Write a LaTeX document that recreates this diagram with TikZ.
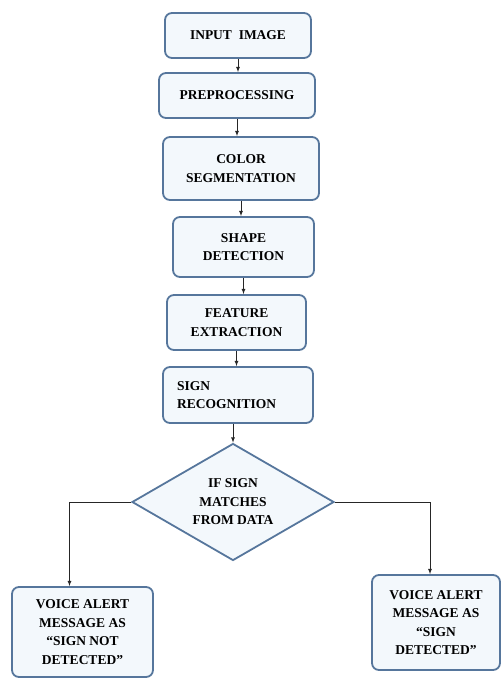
\documentclass[tikz,border=0pt]{standalone}
\usepackage{fontspec}
\setmainfont{Liberation Serif}
\usepackage{xcolor}
\usetikzlibrary{arrows,shapes,positioning}

\definecolor{boxline}{RGB}{86,118,156}
\definecolor{boxfill}{RGB}{243,248,252}

\tikzset{
  boxfont/.style={font=\rmfamily\bfseries\fontsize{13.5}{18.5}\selectfont},
  stepbox/.style={rectangle,draw=boxline,fill=boxfill,line width=1.8pt,rounded corners=7pt,
    align=center,inner sep=2pt,boxfont},
  decbox/.style={diamond,draw=boxline,fill=boxfill,line width=1.8pt,aspect=1.73,
    align=center,inner sep=0pt,boxfont},
  arr/.style={-latex,line width=0.8pt,black!85}
}

\begin{document}
\begin{tikzpicture}[x=1pt,y=-1pt]
\useasboundingbox (0,0) rectangle (502,679);
% Flowchart
\node[stepbox,minimum width=146pt,minimum height=45pt] (input) at (238,35.5) {INPUT\ \ IMAGE};
\node[stepbox,minimum width=156pt,minimum height=45pt] (prep) at (237,95.5) {PREPROCESSING};
\node[stepbox,minimum width=156pt,minimum height=63pt] (color) at (241,168.5) {COLOR\\SEGMENTATION};
\node[stepbox,minimum width=141pt,minimum height=60pt] (shape) at (243.5,247) {SHAPE\\DETECTION};
\node[stepbox,minimum width=139pt,minimum height=55pt] (feat) at (236.5,322.5) {FEATURE\\EXTRACTION};
\node[stepbox,minimum width=150pt,minimum height=56pt,align=left,text width=122pt] (recog) at (238,395) {SIGN\\RECOGNITION};
\node[decbox,minimum width=202pt,minimum height=117pt] (match) at (233,502) {IF SIGN\\MATCHES\\FROM DATA};
\node[stepbox,minimum width=141pt,minimum height=90pt] (nomsg) at (82.5,632) {VOICE ALERT\\MESSAGE AS\\``SIGN NOT\\DETECTED''};
\node[stepbox,minimum width=128pt,minimum height=95pt] (yesmsg) at (436,622.5) {VOICE ALERT\\MESSAGE AS\\``SIGN\\DETECTED''};

\draw[arr] (input.south) -- (input.south |- prep.north);
\draw[arr] (prep.south) -- (prep.south |- color.north);
\draw[arr] (color.south) -- (color.south |- shape.north);
\draw[arr] (shape.south) -- (shape.south |- feat.north);
\draw[arr] (feat.south) -- (feat.south |- recog.north);
\draw[arr] (recog.south -| match.north) -- (match.north);
\draw[arr] (match.west) -| ([xshift=-13pt]nomsg.north);
\draw[arr] (match.east) -| ([xshift=-6pt]yesmsg.north);
  \end{tikzpicture}
\end{document}
